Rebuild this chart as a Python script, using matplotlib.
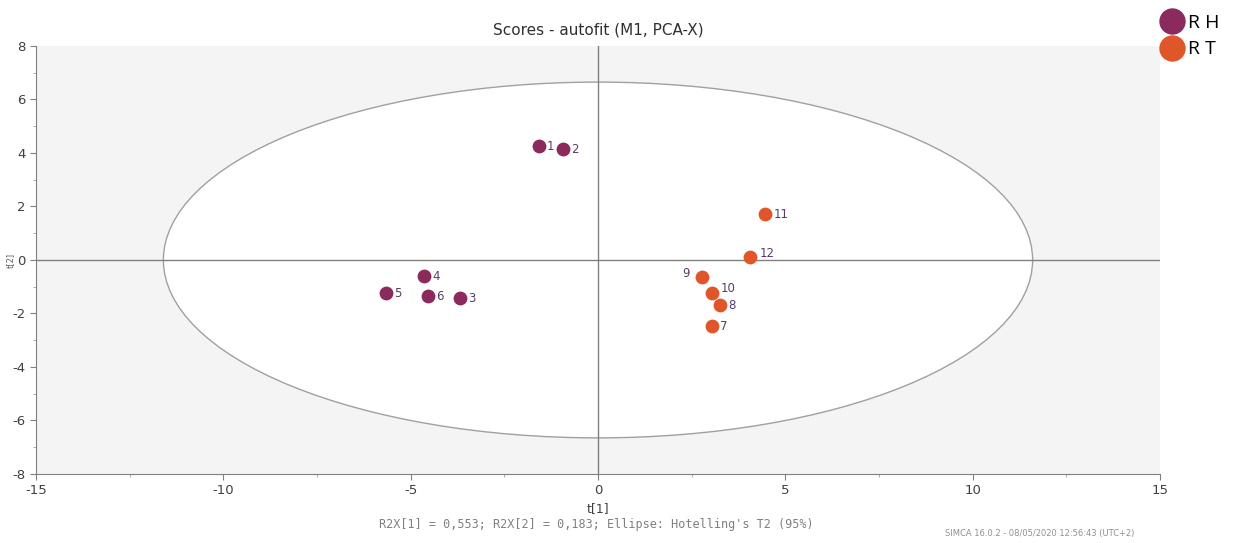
import numpy as np
import matplotlib.pyplot as plt
from matplotlib.patches import Ellipse
from matplotlib.lines import Line2D
from matplotlib.ticker import MultipleLocator

plt.rcParams["axes.unicode_minus"] = False

C_RH = "#8b2a5c"
C_RT = "#e0562b"
C_LAB = "#5b3a66"

# Scores t[1], t[2]
rh_ids = ["1", "2", "3", "4", "5", "6"]
rh_t1 = [-1.58, -0.94, -3.68, -4.64, -5.66, -4.54]
rh_t2 = [4.26, 4.15, -1.42, -0.60, -1.23, -1.35]

rt_ids = ["7", "8", "9", "10", "11", "12"]
rt_t1 = [3.04, 3.25, 2.77, 3.04, 4.46, 4.06]
rt_t2 = [-2.47, -1.68, -0.64, -1.23, 1.72, 0.11]

# Hotelling's T2 (95%) ellipse semi-axes
ell_a = 11.6
ell_b = 6.65

fig = plt.figure(figsize=(12.33, 5.43), dpi=100)
ax = fig.add_axes([0.0292, 0.1271, 0.9116, 0.7882])
ax.set_facecolor("#f4f4f4")

ax.add_patch(Ellipse((0, 0), 2 * ell_a, 2 * ell_b, facecolor="white",
                     edgecolor="#a0a0a0", lw=1.0, zorder=1))
ax.axhline(0, color="#808080", lw=1.0, zorder=2)
ax.axvline(0, color="#808080", lw=1.0, zorder=2)

ax.scatter(rh_t1, rh_t2, s=80, color=C_RH, zorder=3)
ax.scatter(rt_t1, rt_t2, s=80, color=C_RT, zorder=3)

for x, y, t in zip(rh_t1, rh_t2, rh_ids):
    ax.annotate(t, (x, y), xytext=(6, -3), textcoords="offset points",
                fontsize=8.5, color=C_LAB, zorder=4)
for x, y, t in zip(rt_t1, rt_t2, rt_ids):
    off = (6, -3)
    if t == "9":
        off = (-14, 0)
    elif t == "10":
        off = (6, 1)
    elif t == "12":
        off = (7, 0)
    ax.annotate(t, (x, y), xytext=off, textcoords="offset points",
                fontsize=8.5, color=C_LAB, zorder=4)

ax.set_xlim(-15, 15)
ax.set_ylim(-8, 8)
ax.xaxis.set_major_locator(MultipleLocator(5))
ax.xaxis.set_minor_locator(MultipleLocator(2.5))
ax.yaxis.set_major_locator(MultipleLocator(2))
ax.yaxis.set_minor_locator(MultipleLocator(1))
ax.tick_params(colors="#808080", labelcolor="#404040", labelsize=9.5,
               length=4, width=0.8)
ax.tick_params(which="minor", length=2.5, colors="#a0a0a0")
for s in ["top", "right"]:
    ax.spines[s].set_visible(False)
for s in ["left", "bottom"]:
    ax.spines[s].set_color("#808080")

ax.set_title("Scores - autofit (M1, PCA-X)", fontsize=11, color="#303030", pad=8)
ax.set_xlabel("t[1]", fontsize=9, color="#404040", labelpad=3)
ax.set_ylabel("t[2]", fontsize=6, color="#606060")
ax.yaxis.set_label_coords(-0.019, 0.5)

fig.text(0.484, 0.028, "R2X[1] = 0,553; R2X[2] = 0,183; Ellipse: Hotelling's T2 (95%)",
         family="DejaVu Sans Mono", fontsize=8.5, color="#808080", ha="center")
fig.text(0.92, 0.012, "SIMCA 16.0.2 - 08/05/2020 12:56:43 (UTC+2)",
         fontsize=6, color="#909090", ha="right")

handles = [Line2D([], [], ls="", marker="o", ms=18, color=C_RH),
           Line2D([], [], ls="", marker="o", ms=18, color=C_RT)]
fig.legend(handles, ["R H", "R T"], loc="upper right", bbox_to_anchor=(1.0, 1.0),
           frameon=False, handletextpad=0.2, labelspacing=0.45,
           borderaxespad=0.3, handlelength=1.2, prop={"family": "Open Sans", "size": 14})

fig.savefig("out.png", dpi=100)
